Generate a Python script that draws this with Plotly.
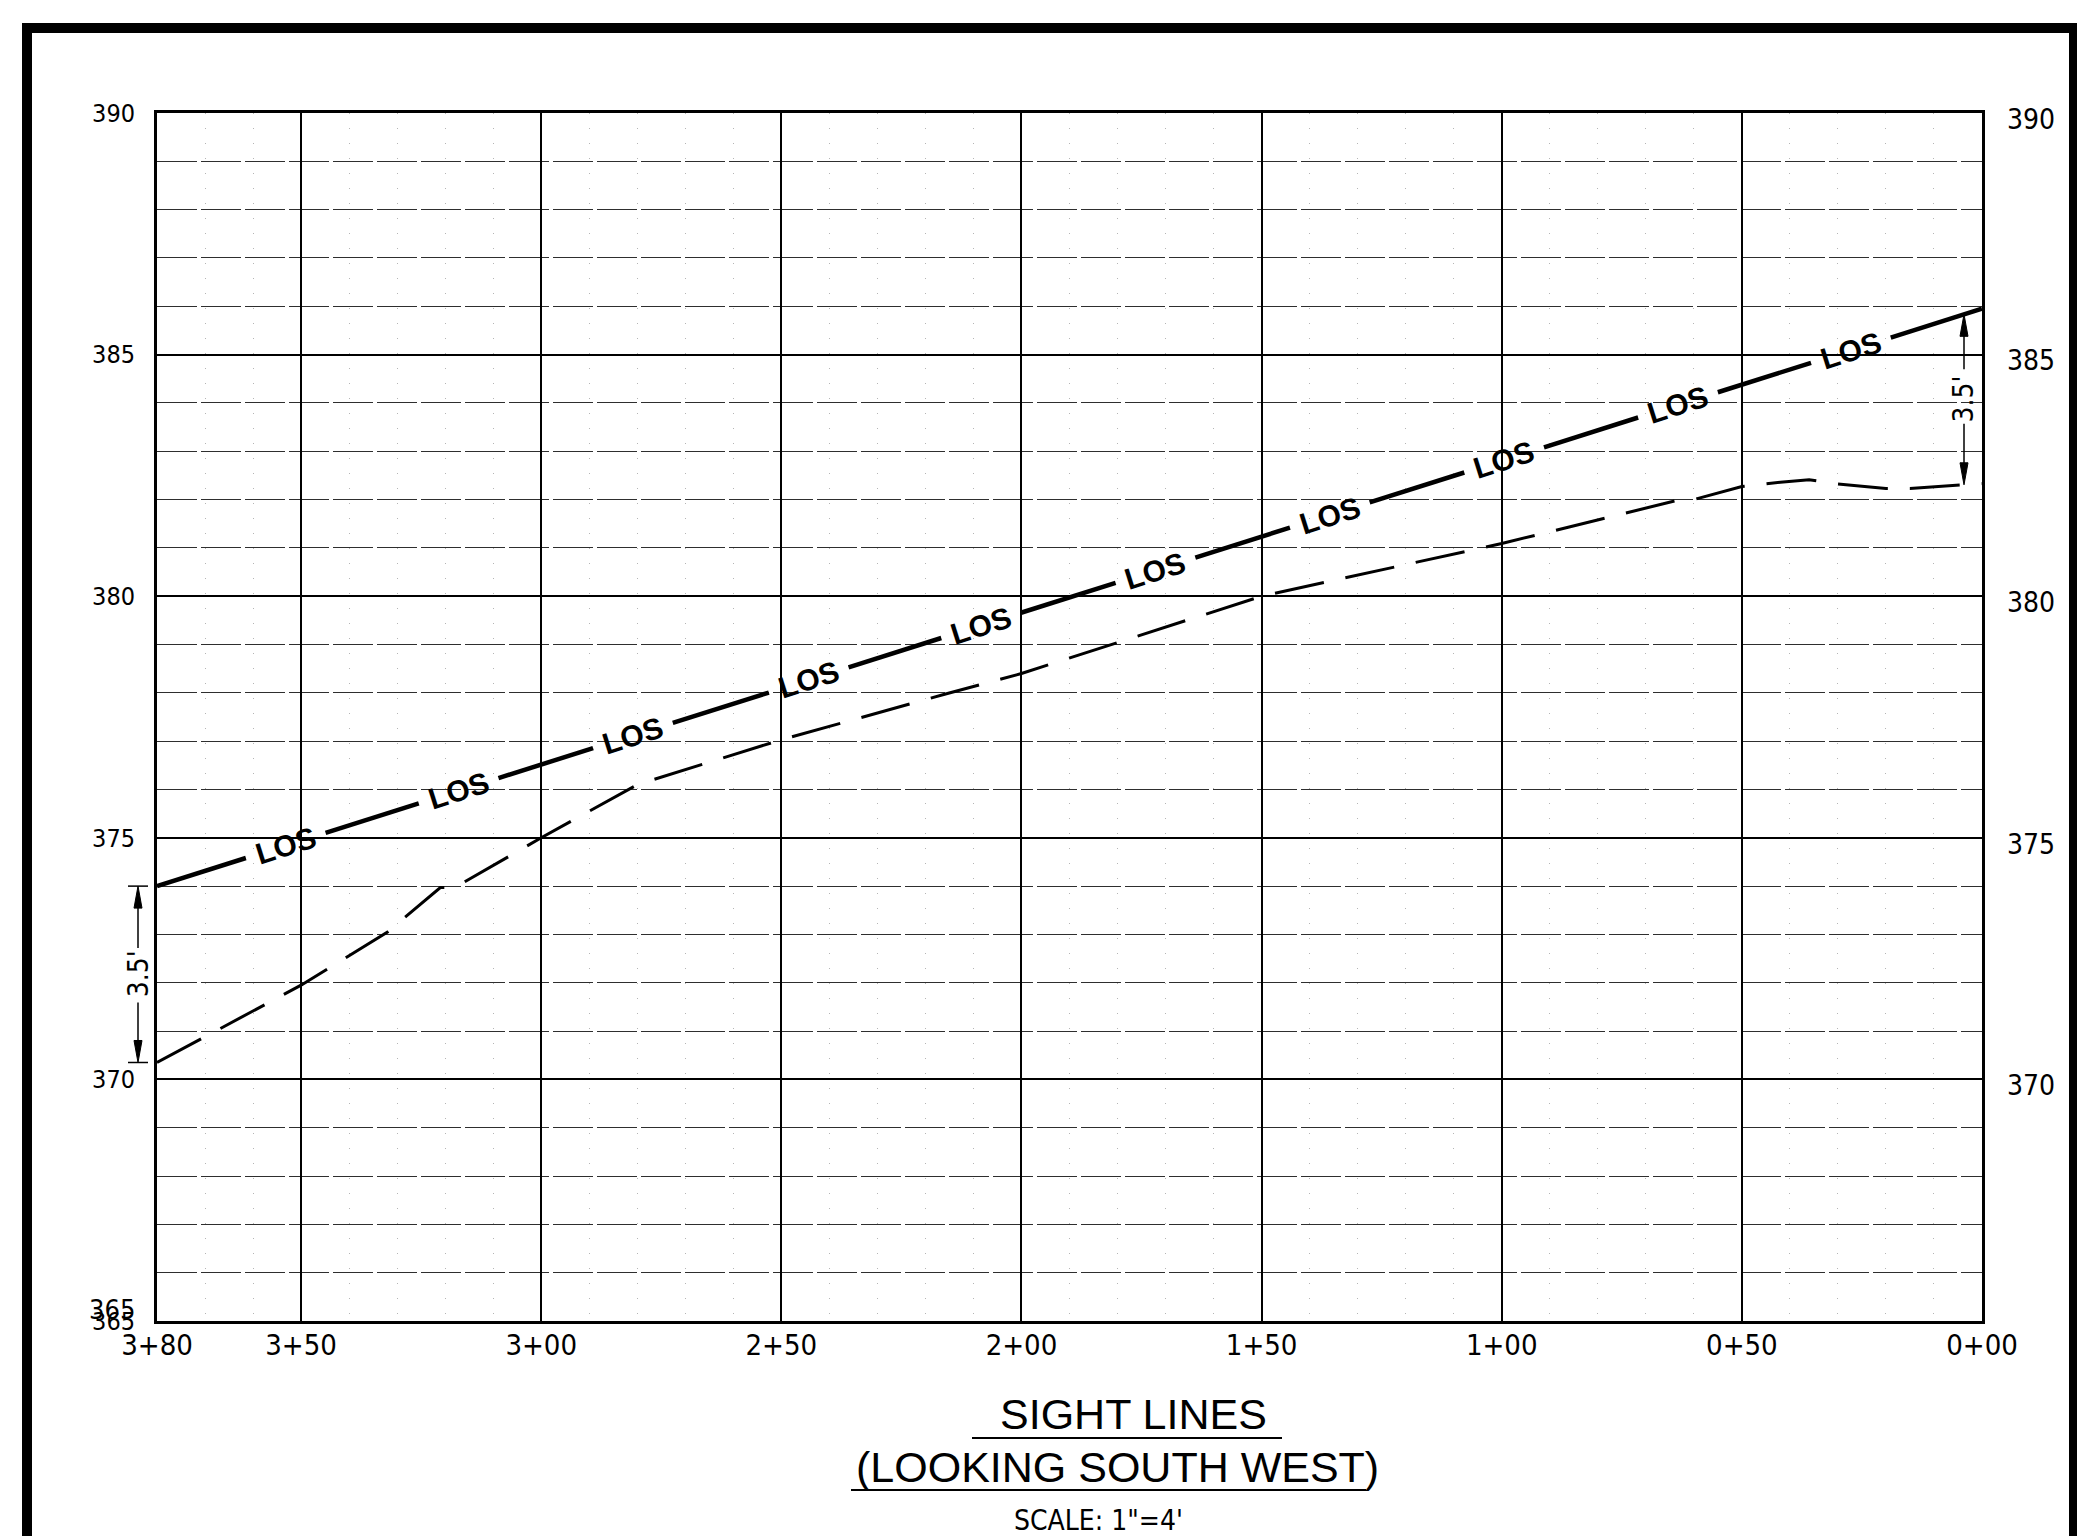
import numpy as np
import plotly.graph_objects as go

# ---------------- data ----------------
station_ticks = [380, 350, 300, 250, 200, 150, 100, 50, 0]
station_labels = ["3+80", "3+50", "3+00", "2+50", "2+00", "1+50", "1+00", "0+50", "0+00"]
elev_ticks_left = [365, 370, 375, 380, 385, 390]
elev_ticks_right = [370, 375, 380, 385, 390]

# existing ground profile (dashed line)
ground_station = [380, 350, 332, 321, 318, 300, 280, 250, 216, 200, 150, 100, 64, 60, 50, 42, 36, 30, 20, 15, 0]
ground_elev = [370.35, 371.95, 373.05, 373.97, 373.97, 375.0, 376.1, 377.03, 377.97, 378.4,
               380.0, 381.09, 381.97, 382.0, 382.27, 382.36, 382.41, 382.32, 382.23, 382.23, 382.33]

# line of sight
los_station = [380, 0]
los_elev = [374.0, 385.95]
los_label_station = [353.2, 317.2, 280.9, 244.3, 208.4, 172.1, 135.8, 99.5, 63.3, 27.3]
los_label = "LOS"
los_gap_half = 8.3  # ft, break in line around each label

eye_height_label = "3.5'"
right_dim_station = 3.7

title_1 = "SIGHT LINES"
title_2 = "(LOOKING SOUTH WEST)"
scale_text = "SCALE: 1\"=4'"

# ---------------- geometry ----------------
W, H = 2085, 1536
OFF = 8                      # page body margin
PLOT_L, PLOT_T, PW, PH = 157, 113, 1825, 1208   # target plot box in page pixels
ML, MT = PLOT_L - OFF, PLOT_T - OFF
MR, MB = W - ML - PW, H - MT - PH
X_RANGE = [380, 0]
Y_RANGE = [365, 390]


def px_x(px):
    return (px - PLOT_L) / PW


def px_y(py):
    return (PLOT_T + PH - py) / PH


NARROW = "Liberation Sans Narrow, DejaVu Sans Condensed, Arial Narrow, sans-serif"
SANS = "Liberation Sans, Arial, sans-serif"


def los_at(s):
    return float(np.interp(s, los_station[::-1], los_elev[::-1]))


def ground_at(s):
    return float(np.interp(s, ground_station[::-1], ground_elev[::-1]))


# LOS line with breaks at the labels
lx, ly = [los_station[0]], [los_elev[0]]
for s in los_label_station:
    lx += [s + los_gap_half, None, s - los_gap_half]
    ly += [los_at(s + los_gap_half), None, los_at(s - los_gap_half)]
lx.append(los_station[-1])
ly.append(los_elev[-1])

fig = go.Figure()
fig.add_trace(go.Scatter(x=ground_station, y=ground_elev, mode="lines",
                         line=dict(color="black", width=3, dash="50px,22px"),
                         hoverinfo="skip", showlegend=False))
fig.add_trace(go.Scatter(x=lx, y=ly, mode="lines", line=dict(color="black", width=4.5),
                         connectgaps=False, hoverinfo="skip", showlegend=False))
fig.add_trace(go.Scatter(x=[None], y=[None], yaxis="y2", showlegend=False, hoverinfo="skip"))

# LOS labels rotated along the line
px_per_ft = PW / abs(X_RANGE[0] - X_RANGE[1])
px_per_unit = PH / (Y_RANGE[1] - Y_RANGE[0])
angle = np.degrees(np.arctan((los_elev[1] - los_elev[0]) * px_per_unit /
                             (abs(los_station[0] - los_station[1]) * px_per_ft)))
annotations = []
for s in los_label_station:
    annotations.append(dict(x=s, y=los_at(s), xref="x", yref="y", text="<b>%s</b>" % los_label,
                            showarrow=False, textangle=-angle, xanchor="center", yanchor="middle",
                            font=dict(family=SANS, size=30, color="black")))

shapes = []


def dimension(xp, y_top, y_bot, top_len, bot_len, ticks):
    line = dict(color="black", width=1.5)
    shapes.append(dict(type="path", xref="paper", yref="y", xsizemode="pixel", ysizemode="pixel",
                       xanchor=xp, yanchor=y_top, path="M0,0 L-4,-22 L4,-22 Z",
                       fillcolor="black", line=dict(color="black", width=1)))
    shapes.append(dict(type="path", xref="paper", yref="y", xsizemode="pixel", ysizemode="pixel",
                       xanchor=xp, yanchor=y_bot, path="M0,0 L-4,22 L4,22 Z",
                       fillcolor="black", line=dict(color="black", width=1)))
    shapes.append(dict(type="line", xref="paper", yref="y", xsizemode="pixel", ysizemode="pixel",
                       xanchor=xp, yanchor=y_top, x0=0, x1=0, y0=-20, y1=-top_len, line=line))
    shapes.append(dict(type="line", xref="paper", yref="y", xsizemode="pixel", ysizemode="pixel",
                       xanchor=xp, yanchor=y_bot, x0=0, x1=0, y0=20, y1=bot_len, line=line))
    if ticks:
        for yy in (y_top, y_bot):
            shapes.append(dict(type="line", xref="paper", yref="y", xsizemode="pixel",
                               xanchor=xp, x0=-10, x1=10, y0=yy, y1=yy, line=line))
    annotations.append(dict(x=xp, y=(y_top + y_bot) / 2, xref="paper", yref="y",
                            text=eye_height_label, showarrow=False, textangle=-90,
                            xanchor="center", yanchor="middle",
                            font=dict(family=NARROW, size=28, color="black")))


dimension(px_x(138), los_elev[0], ground_elev[0], 62, 60, True)
dimension(px_x(1964), los_at(right_dim_station), ground_at(right_dim_station), 55, 61, False)

# extra overprinted "365" as in the drawing
annotations.append(dict(x=px_x(137), y=365, xref="paper", yref="y", text="365", showarrow=False,
                        xanchor="right", yanchor="middle", yshift=12,
                        font=dict(family=NARROW, size=27, color="black")))

# titles
for txt, cx, cy, fam, sz in [(title_1, 1133, 1414, SANS, 43),
                             (title_2, 1117, 1467, SANS, 43),
                             (scale_text, 1098, 1520, NARROW, 28)]:
    annotations.append(dict(x=px_x(cx), y=px_y(cy), xref="paper", yref="paper", text=txt,
                            showarrow=False, xanchor="center", yanchor="middle",
                            font=dict(family=fam, size=sz, color="black")))
shapes.append(dict(type="line", xref="paper", yref="paper", x0=px_x(972), x1=px_x(1282),
                   y0=px_y(1438), y1=px_y(1438), line=dict(color="black", width=2)))
shapes.append(dict(type="line", xref="paper", yref="paper", x0=px_x(851), x1=px_x(1366),
                   y0=px_y(1490), y1=px_y(1490), line=dict(color="black", width=2)))

# outer sheet border
shapes.append(dict(type="rect", xref="paper", yref="paper", x0=px_x(27), x1=px_x(2074),
                   y0=px_y(1600), y1=px_y(28), line=dict(color="black", width=10),
                   fillcolor="rgba(0,0,0,0)", layer="above"))

fig.update_layout(
    width=W, height=H,
    margin=dict(l=ML, r=MR, t=MT, b=MB),
    paper_bgcolor="white", plot_bgcolor="white",
    showlegend=False,
    xaxis=dict(range=X_RANGE, tickmode="array", tickvals=station_ticks, ticktext=station_labels,
               showgrid=True, gridcolor="black", gridwidth=1.5, zeroline=False,
               showline=True, linecolor="black", linewidth=3, mirror=True,
               ticks="", ticklabelstandoff=-4,
               tickfont=dict(family=NARROW, size=29, color="black"),
               minor=dict(dtick=10, tick0=0, showgrid=True, gridcolor="#b5b5b5",
                          gridwidth=1, griddash="1px,14px")),
    yaxis=dict(range=Y_RANGE, tickmode="array", tickvals=elev_ticks_left,
               showgrid=True, gridcolor="black", gridwidth=2, zeroline=False,
               showline=True, linecolor="black", linewidth=3, mirror=True,
               ticks="", ticklabelstandoff=14,
               tickfont=dict(family=NARROW, size=25, color="black"),
               minor=dict(dtick=1, tick0=365, showgrid=True, gridcolor="#2e2e2e",
                          gridwidth=1, griddash="40px,4px")),
    yaxis2=dict(range=[Y_RANGE[0] + 0.125, Y_RANGE[1] + 0.125], overlaying="y", side="right",
                tickmode="array", tickvals=elev_ticks_right, showgrid=False, zeroline=False,
                showline=False, ticks="", ticklabelstandoff=24,
                tickfont=dict(family=NARROW, size=28, color="black")),
    annotations=annotations,
    shapes=shapes,
)

fig.write_html("out.html")
